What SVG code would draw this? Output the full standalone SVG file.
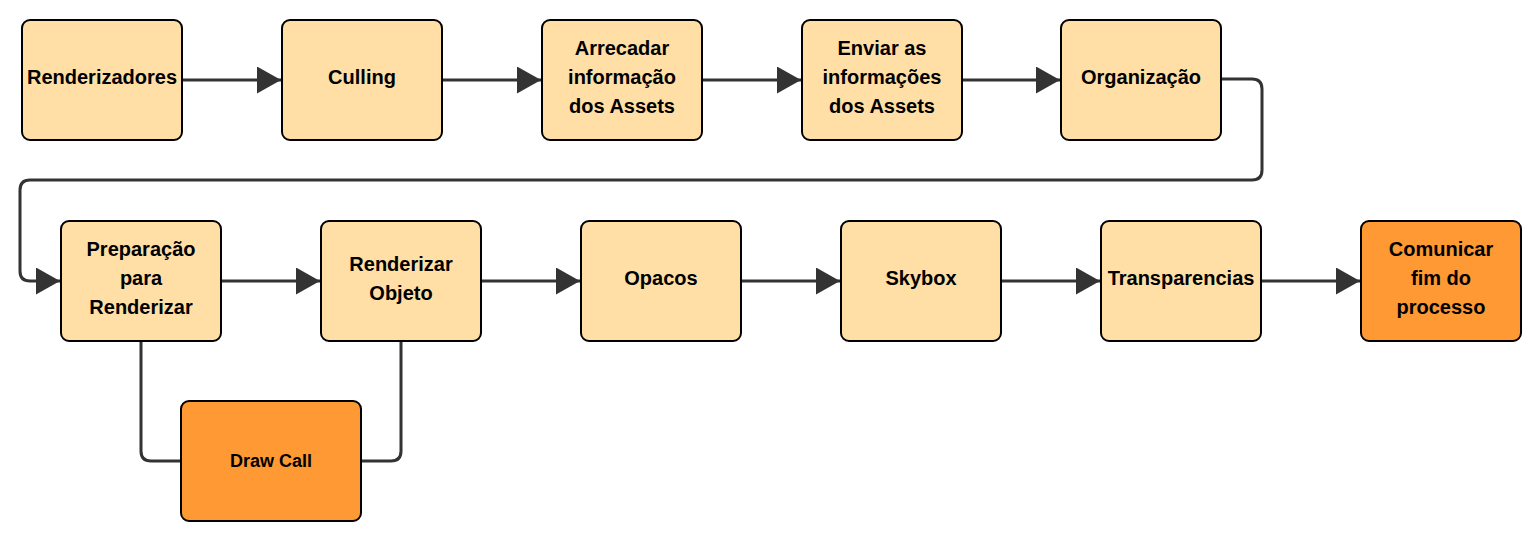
<svg xmlns="http://www.w3.org/2000/svg" width="1537" height="539" viewBox="0 0 1537 539">
<style>
.box{fill:#FFDFA6;stroke:#000;stroke-width:2}
.hot{fill:#FF9933;stroke:#000;stroke-width:2}
.t{font-family:"Liberation Sans",Arial,sans-serif;font-weight:bold;font-size:20px;text-anchor:middle;fill:#000}
.s{font-size:18px}
.c{fill:none;stroke:#333;stroke-width:3}
</style>
<defs>
<marker id="ah" viewBox="0 0 24 27" refX="24" refY="13.5" markerWidth="24" markerHeight="27" markerUnits="userSpaceOnUse" orient="auto">
<path d="M0,0 L24,13.5 L0,27 Z" fill="#333"/>
</marker>
</defs>
<rect width="1537" height="539" fill="#fff"/>
<g id="connectors">
<path class="c" d="M182,80 H281" marker-end="url(#ah)"/>
<path class="c" d="M442,80 H541" marker-end="url(#ah)"/>
<path class="c" d="M702,80 H801" marker-end="url(#ah)"/>
<path class="c" d="M962,80 H1060" marker-end="url(#ah)"/>
<path class="c" d="M1221,79 H1252 Q1262,79 1262,89 V170 Q1262,180 1252,180 H30 Q20,180 20,190 V271 Q20,281 30,281 H60" marker-end="url(#ah)"/>
<path class="c" d="M221,281 H320" marker-end="url(#ah)"/>
<path class="c" d="M481,281 H580" marker-end="url(#ah)"/>
<path class="c" d="M741,281 H840" marker-end="url(#ah)"/>
<path class="c" d="M1001,281 H1100" marker-end="url(#ah)"/>
<path class="c" d="M1261,281 H1360" marker-end="url(#ah)"/>
<path class="c" d="M141,341 V451 Q141,461 151,461 H181"/>
<path class="c" d="M401,341 V451 Q401,461 391,461 H361"/>
</g>
<g id="n1"><rect class="box" x="22" y="20" width="160" height="120" rx="8"/><text class="t" x="102" y="84">Renderizadores</text></g>
<g id="n2"><rect class="box" x="282" y="20" width="160" height="120" rx="8"/><text class="t" x="362" y="84">Culling</text></g>
<g id="n3"><rect class="box" x="542" y="20" width="160" height="120" rx="8"/><text class="t" x="622" y="55">Arrecadar</text><text class="t" x="622" y="84">informação</text><text class="t" x="622" y="113">dos Assets</text></g>
<g id="n4"><rect class="box" x="802" y="20" width="160" height="120" rx="8"/><text class="t" x="882" y="55">Enviar as</text><text class="t" x="882" y="84">informações</text><text class="t" x="882" y="113">dos Assets</text></g>
<g id="n5"><rect class="box" x="1061" y="20" width="160" height="120" rx="8"/><text class="t" x="1141" y="84">Organização</text></g>
<g id="n6"><rect class="box" x="61" y="221" width="160" height="120" rx="8"/><text class="t" x="141" y="256">Preparação</text><text class="t" x="141" y="285">para</text><text class="t" x="141" y="314">Renderizar</text></g>
<g id="n7"><rect class="box" x="321" y="221" width="160" height="120" rx="8"/><text class="t" x="401" y="271">Renderizar</text><text class="t" x="401" y="300">Objeto</text></g>
<g id="n8"><rect class="box" x="581" y="221" width="160" height="120" rx="8"/><text class="t" x="661" y="285">Opacos</text></g>
<g id="n9"><rect class="box" x="841" y="221" width="160" height="120" rx="8"/><text class="t" x="921" y="285">Skybox</text></g>
<g id="n10"><rect class="box" x="1101" y="221" width="160" height="120" rx="8"/><text class="t" x="1181" y="285">Transparencias</text></g>
<g id="n11"><rect class="hot" x="1361" y="221" width="160" height="120" rx="8"/><text class="t" x="1441" y="256">Comunicar</text><text class="t" x="1441" y="285">fim do</text><text class="t" x="1441" y="314">processo</text></g>
<g id="n12"><rect class="hot" x="181" y="401" width="180" height="120" rx="8"/><text class="t s" x="271" y="467">Draw Call</text></g>
</svg>
